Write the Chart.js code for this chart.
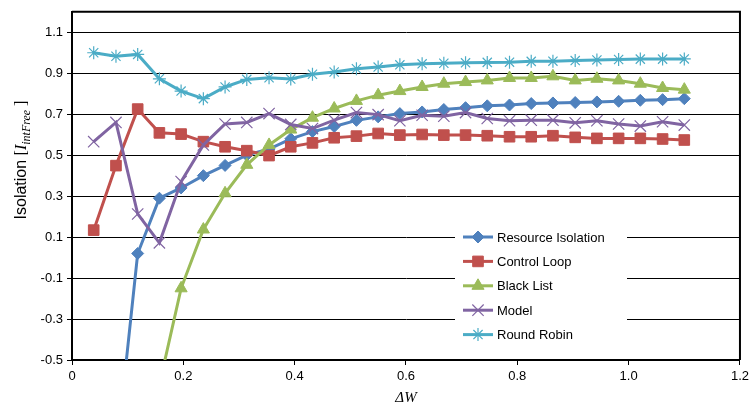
<!DOCTYPE html>
<html>
<head>
<meta charset="utf-8">
<script src="https://cdn.jsdelivr.net/npm/chart.js@4.4.0/dist/chart.umd.min.js"></script>
<style>
  html, body { margin: 0; padding: 0; background: #fff; }
  #c { display: block; }
</style>
</head>
<body>
<canvas id="c" width="753" height="407"></canvas>
<script>
// Window width ΔW for each measurement
const deltaW = [0.039, 0.079, 0.118, 0.157, 0.196, 0.236, 0.275, 0.314, 0.354, 0.393,
                0.432, 0.471, 0.511, 0.550, 0.589, 0.629, 0.668, 0.707, 0.746, 0.786,
                0.825, 0.864, 0.904, 0.943, 0.982, 1.021, 1.061, 1.100];

const resourceIsolation = [-2.6, -0.98, 0.02, 0.29, 0.34, 0.40, 0.45, 0.50, 0.53, 0.58,
                           0.615, 0.64, 0.67, 0.687, 0.703, 0.711, 0.723, 0.732, 0.741, 0.745,
                           0.752, 0.755, 0.757, 0.760, 0.763, 0.768, 0.771, 0.776];
const controlLoop = [0.134, 0.449, 0.725, 0.609, 0.603, 0.566, 0.541, 0.522, 0.498, 0.541,
                     0.56, 0.585, 0.593, 0.606, 0.598, 0.601, 0.598, 0.598, 0.595, 0.590,
                     0.590, 0.595, 0.587, 0.582, 0.582, 0.582, 0.579, 0.574];
const blackList = [-4.2, -2.6, -1.5, -0.62, -0.15, 0.137, 0.314, 0.453, 0.55, 0.625,
                   0.683, 0.728, 0.765, 0.793, 0.813, 0.833, 0.849, 0.857, 0.865, 0.877,
                   0.877, 0.885, 0.865, 0.873, 0.865, 0.849, 0.828, 0.820];
const model = [0.566, 0.660, 0.213, 0.072, 0.371, 0.550, 0.652, 0.660, 0.703, 0.65,
               0.63, 0.671, 0.708, 0.698, 0.668, 0.695, 0.690, 0.708, 0.679, 0.668,
               0.671, 0.671, 0.658, 0.668, 0.652, 0.642, 0.663, 0.647];
const roundRobin = [1.0, 0.983, 0.992, 0.873, 0.813, 0.776, 0.833, 0.870, 0.878, 0.872,
                    0.895, 0.906, 0.922, 0.930, 0.941, 0.946, 0.949, 0.951, 0.953, 0.954,
                    0.958, 0.959, 0.962, 0.965, 0.967, 0.969, 0.969, 0.970];

const seriesNames = ['Resource Isolation', 'Control Loop', 'Black List', 'Model', 'Round Robin'];

const xTickValues = [0, 0.2, 0.4, 0.6, 0.8, 1.0, 1.2];
const xTickLabels = ['0', '0.2', '0.4', '0.6', '0.8', '1.0', '1.2'];
const yTickValues = [-0.5, -0.3, -0.1, 0.1, 0.3, 0.5, 0.7, 0.9, 1.1];
const yTickLabels = ['-0.5', '-0.3', '-0.1', '0.1', '0.3', '0.5', '0.7', '0.9', '1.1'];

const toPoints = arr => deltaW.map((x, i) => ({ x: x, y: arr[i] }));

function series(label, values, color, style, radius, bw, order) {
  return {
    label: label,
    data: toPoints(values),
    borderColor: color,
    backgroundColor: color,
    borderWidth: 3,
    pointStyle: style,
    pointRadius: radius,
    pointBorderWidth: bw,
    pointBackgroundColor: color,
    pointBorderColor: color,
    tension: 0,
    order: order
  };
}

const datasets = [
  series(seriesNames[0], resourceIsolation, '#4F81BD', 'rectRot', 6, 1, 5),
  series(seriesNames[1], controlLoop, '#C0504D', 'rect', 7.5, 1, 4),
  series(seriesNames[2], blackList, '#9BBB59', 'triangle', 7, 1, 3),
  series(seriesNames[3], model, '#8064A2', 'crossRot', 8, 1.2, 2),
  series(seriesNames[4], roundRobin, '#4BACC6', 'star', 6.5, 1.2, 1)
];

// Top and right edges of the plot frame
const frame = {
  id: 'frame',
  afterDraw(chart) {
    const { ctx, chartArea: a } = chart;
    ctx.save();
    ctx.strokeStyle = '#000';
    ctx.lineWidth = 2;
    ctx.beginPath();
    ctx.moveTo(a.left, a.top);
    ctx.lineTo(a.right, a.top);
    ctx.lineTo(a.right, a.bottom);
    ctx.stroke();
    ctx.restore();
  }
};

// Legend boxed inside the plot, lower right
const insideLegend = {
  id: 'insideLegend',
  afterDatasetsDraw(chart) {
    const ctx = chart.ctx;
    ctx.save();
    ctx.fillStyle = '#fff';
    ctx.fillRect(455, 224, 172, 124);
    ctx.font = '13px "Liberation Sans", Arial, sans-serif';
    ctx.textBaseline = 'middle';
    chart.data.datasets.forEach((ds, i) => {
      const y = 237 + i * 24.4;
      ctx.strokeStyle = ds.borderColor;
      ctx.lineWidth = 3;
      ctx.beginPath();
      ctx.moveTo(463, y);
      ctx.lineTo(493, y);
      ctx.stroke();
      ctx.fillStyle = ds.pointBackgroundColor;
      ctx.strokeStyle = ds.pointBorderColor;
      ctx.lineWidth = ds.pointBorderWidth;
      Chart.helpers.drawPoint(ctx, {
        pointStyle: ds.pointStyle,
        radius: ds.pointRadius,
        rotation: 0,
        borderWidth: ds.pointBorderWidth
      }, 478, y);
      ctx.fillStyle = '#000';
      ctx.fillText(ds.label, 497, y + 1);
    });
    ctx.restore();
  }
};

// Rotated y-axis title with italic subscripted symbol
const yTitle = {
  id: 'yTitle',
  afterDraw(chart) {
    const ctx = chart.ctx;
    const parts = [
      { t: 'Isolation ', f: '16px "Liberation Sans", Arial, sans-serif', dy: 0 },
      { t: '[', f: '16px "Liberation Serif", serif', dy: 0 },
      { t: 'I', f: 'italic 16px "Liberation Serif", serif', dy: 0 },
      { t: 'intFree', f: 'italic 12px "Liberation Serif", serif', dy: 3.5 },
      { t: ' ]', f: '16px "Liberation Serif", serif', dy: 0 }
    ];
    ctx.save();
    let total = 0;
    parts.forEach(p => { ctx.font = p.f; p.w = ctx.measureText(p.t).width; total += p.w; });
    ctx.translate(26, 160);
    ctx.rotate(-Math.PI / 2);
    ctx.fillStyle = '#000';
    ctx.textBaseline = 'alphabetic';
    let x = -total / 2;
    parts.forEach(p => {
      ctx.font = p.f;
      ctx.fillText(p.t, x, p.dy);
      x += p.w;
    });
    ctx.restore();
  }
};

Chart.defaults.font.family = '"Liberation Sans", Arial, sans-serif';
Chart.defaults.color = '#000';

new Chart(document.getElementById('c'), {
  type: 'line',
  data: { datasets: datasets },
  options: {
    responsive: false,
    animation: false,
    devicePixelRatio: 1,
    layout: { padding: { top: 10, right: 13, left: 0, bottom: 0 } },
    plugins: {
      legend: { display: false },
      tooltip: { enabled: false }
    },
    scales: {
      x: {
        type: 'linear',
        min: 0,
        max: 1.2,
        afterBuildTicks: s => { s.ticks = xTickValues.map(v => ({ value: v })); },
        afterFit: s => { s.height = 47; },
        ticks: {
          callback: (v, i) => xTickLabels[i],
          font: { size: 13 },
          color: '#000',
          padding: 4,
          maxRotation: 0,
          autoSkip: false
        },
        grid: { drawOnChartArea: false, drawTicks: true, tickLength: 5, color: '#000', lineWidth: 1 },
        border: { display: true, color: '#000', width: 2 },
        title: {
          display: true,
          text: 'ΔW',
          font: { family: '"Liberation Serif", serif', style: 'italic', size: 15 },
          color: '#000',
          padding: { top: 0, bottom: 0 }
        }
      },
      y: {
        type: 'linear',
        min: -0.5,
        max: 1.2,
        afterBuildTicks: s => { s.ticks = yTickValues.map(v => ({ value: v })); },
        afterFit: s => { s.width = 72; },
        ticks: {
          callback: (v, i) => yTickLabels[i],
          font: { size: 13 },
          color: '#000',
          padding: 4
        },
        grid: { color: '#000', lineWidth: 1, drawTicks: true, tickLength: 5 },
        border: { display: true, color: '#000', width: 2 }
      }
    }
  },
  plugins: [frame, insideLegend, yTitle]
});
</script>
</body>
</html>
